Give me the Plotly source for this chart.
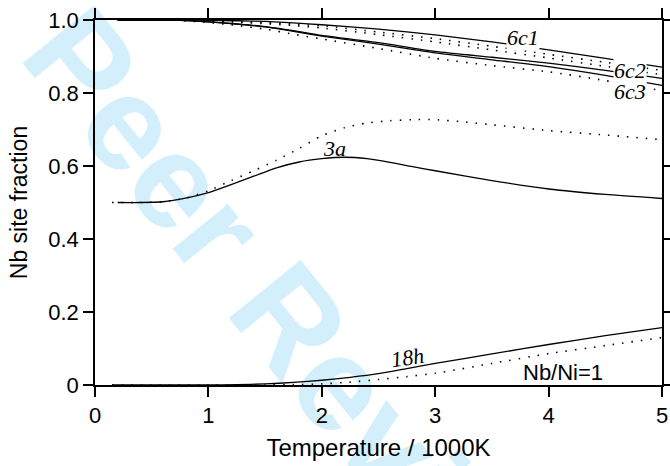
import plotly.graph_objects as go

# ---- data ----
x_6c = [0.2, 0.5, 0.75, 1.0, 1.25, 1.5, 1.75, 2.0, 2.5, 3.0, 3.5, 4.0, 4.5, 5.0]
c1_solid = [1.0, 1.0, 1.0, 0.999, 0.998, 0.996, 0.992, 0.987, 0.975, 0.959, 0.94, 0.918, 0.895, 0.871]
c2_solid = [1.0, 1.0, 0.999, 0.995, 0.989, 0.982, 0.971, 0.958, 0.938, 0.914, 0.898, 0.882, 0.862, 0.84]
c3_solid = [1.0, 1.0, 0.999, 0.995, 0.989, 0.981, 0.969, 0.956, 0.934, 0.91, 0.891, 0.872, 0.848, 0.821]
c1_dot = [1.0, 1.0, 1.0, 0.998, 0.996, 0.993, 0.989, 0.984, 0.967, 0.949, 0.928, 0.906, 0.884, 0.862]
c2_dot = [1.0, 1.0, 0.999, 0.997, 0.994, 0.99, 0.985, 0.978, 0.96, 0.94, 0.918, 0.896, 0.873, 0.85]
c3_dot = [1.0, 1.0, 0.999, 0.993, 0.985, 0.975, 0.961, 0.948, 0.922, 0.895, 0.875, 0.858, 0.834, 0.806]

x_3a = [0.2, 0.4, 0.6, 0.8, 1.0, 1.2, 1.4, 1.6, 1.8, 2.0, 2.2, 2.4, 2.6, 2.8, 3.0, 3.5, 4.0, 4.5, 5.0]
a3_solid = [0.5, 0.5, 0.502, 0.512, 0.527, 0.549, 0.572, 0.595, 0.611, 0.62, 0.624, 0.62, 0.61, 0.598,
            0.587, 0.56, 0.537, 0.522, 0.511]
x_3a_dot = [0.15, 0.4, 0.6, 0.8, 1.0, 1.2, 1.4, 1.6, 1.8, 2.0, 2.2, 2.4, 2.6, 2.8, 3.0, 3.25, 3.5, 4.0, 4.5, 5.0]
a3_dot = [0.5, 0.5, 0.502, 0.512, 0.532, 0.56, 0.587, 0.616, 0.648, 0.683, 0.705, 0.718, 0.724, 0.727,
          0.727, 0.721, 0.713, 0.697, 0.685, 0.672]

x_18 = [0.15, 0.5, 1.0, 1.25, 1.5, 1.75, 2.0, 2.25, 2.5, 2.75, 3.0, 3.5, 4.0, 4.5, 5.0]
h18_solid = [0, 0, 0, 0.001, 0.003, 0.007, 0.013, 0.021, 0.031, 0.045, 0.059, 0.085, 0.111, 0.135, 0.157]
h18_dot = [0, 0, 0, 0, 0, 0.001, 0.003, 0.008, 0.015, 0.023, 0.032, 0.059, 0.086, 0.108, 0.13]

x_ticks = [0, 1, 2, 3, 4, 5]
y_ticks = [0, 0.2, 0.4, 0.6, 0.8, 1.0]
y_ticktext = ["0", "0.2", "0.4", "0.6", "0.8", "1.0"]

site_labels = ["6c1", "6c2", "6c3", "3a", "18h"]
label_x = [3.774, 4.718, 4.718, 2.108, 2.76]
label_y = [0.952, 0.862, 0.805, 0.648, 0.076]
label_angle = [0, 0, 0, 0, -8]
label_bg = [True, True, True, False, False]

note_text = "Nb/Ni=1"
note_x, note_y = 4.127, 0.035

# ---- figure ----
fig = go.Figure()
SOLID = dict(color="black", width=1.3, shape="spline", smoothing=0.6)
DOT = dict(color="black", width=1.6, dash="1.5px,8px", shape="spline", smoothing=0.6)

for ys in (c1_dot, c2_dot, c3_dot):
    fig.add_trace(go.Scatter(x=x_6c, y=ys, mode="lines", line=DOT))
for ys in (c1_solid, c2_solid, c3_solid):
    fig.add_trace(go.Scatter(x=x_6c, y=ys, mode="lines", line=SOLID))
fig.add_trace(go.Scatter(x=x_3a_dot, y=a3_dot, mode="lines", line=DOT))
fig.add_trace(go.Scatter(x=x_3a, y=a3_solid, mode="lines", line=SOLID))
fig.add_trace(go.Scatter(x=x_18, y=h18_dot, mode="lines", line=DOT))
fig.add_trace(go.Scatter(x=x_18, y=h18_solid, mode="lines", line=SOLID))

for t, lx, ly, ang, bg in zip(site_labels, label_x, label_y, label_angle, label_bg):
    fig.add_annotation(x=lx, y=ly, text=t, showarrow=False, textangle=ang,
                       font=dict(family="Liberation Serif", size=22, color="black", style="italic"),
                       bgcolor="white" if bg else None, borderpad=0)
fig.add_annotation(x=note_x, y=note_y, text=note_text, showarrow=False,
                   font=dict(family="Liberation Sans", size=22, color="black"))

# watermark below everything
fig.add_shape(type="rect", xref="paper", yref="paper", x0=0.377, x1=0.387, y0=0.158, y1=0.168,
              line=dict(width=0, color="rgba(0,0,0,0)"), fillcolor="rgba(0,0,0,0)", layer="below",
              label=dict(text="Peer Review", textangle=51, textposition="middle center",
                         font=dict(family="Liberation Sans", size=134, color="#d3effc", weight="bold")))

fig.update_layout(template="simple_white")

axis_common = dict(showline=True, linecolor="black", linewidth=1.5, mirror="ticks",
                   tickmode="array", ticks="outside", ticklen=10, tickwidth=1.5, tickcolor="black",
                   showgrid=False, zeroline=False, automargin=False,
                   tickfont=dict(family="Liberation Sans", size=22, color="black"))
fig.update_xaxes(range=[0, 5], tickvals=x_ticks, **axis_common,
                 title=dict(text="Temperature / 1000K", standoff=12,
                            font=dict(family="Liberation Sans", size=24, color="black")))
fig.update_yaxes(range=[0, 1], tickvals=y_ticks, ticktext=y_ticktext, **axis_common,
                 title=dict(text="Nb site fraction", standoff=14,
                            font=dict(family="Liberation Sans", size=23, color="black")))

fig.update_layout(width=670, height=466, margin=dict(l=95, r=8, t=20, b=81, autoexpand=False),
                  paper_bgcolor="white", plot_bgcolor="rgba(0,0,0,0)", showlegend=False)

fig.write_html("out.html", config={"displayModeBar": False},
               post_script="document.body.style.margin='0px';")
